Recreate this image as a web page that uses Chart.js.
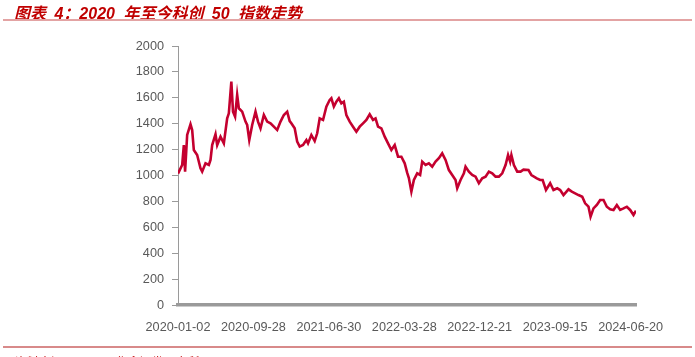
<!DOCTYPE html>
<html>
<head>
<meta charset="utf-8">
<script src="https://cdn.jsdelivr.net/npm/chart.js@4/dist/chart.umd.min.js"></script>
<style>
  html, body { margin: 0; padding: 0; background: #fff; }
  #wrap { position: relative; width: 695px; height: 357px; overflow: hidden; }
  #c { position: absolute; left: 0; top: 0; }
  #title { position: absolute; left: 14px; top: 0px; font: italic bold 16px "Liberation Sans", "Noto Sans CJK SC", sans-serif; color: #C00000; white-space: nowrap; word-spacing: 4px; }
  #tline { position: absolute; left: 3px; width: 689px; top: 19px; height: 1.5px; background: #E3A3A3; }
  #bline { position: absolute; left: 3px; width: 689px; top: 346px; height: 1.5px; background: #D88A8A; }
  #src { position: absolute; left: 15px; top: 353px; font: 12px "Noto Sans CJK SC", sans-serif; color: #C00000; white-space: nowrap; }
</style>
</head>
<body>
<div id="wrap">
  <canvas id="c" width="695" height="357"></canvas>
  <div id="title">图表 4：2020 年至今科创 50 指数走势</div>
  <div id="tline"></div>
  <div id="bline"></div>
  <div id="src">资料来源：Wind，华鑫证券研究所</div>
</div>
<script>
// Trading-day index of each reading (0 = 2020-01-02)
const dayIndex = [
  0, 10, 14, 17, 22, 30, 34, 38, 46, 54, 58, 66, 74, 78, 82, 90, 94, 102, 110, 118,
  122, 128, 132, 137, 142, 146, 154, 162, 166, 171, 178, 186, 192, 198, 206, 214, 222, 230, 238, 246,
  254, 262, 268, 272, 280, 286, 292, 300, 308, 312, 320, 328, 334, 340, 348, 356, 364, 368, 374, 380,
  386, 392, 398, 404, 412, 420, 428, 436, 444, 452, 460, 468, 474, 480, 488, 496, 504, 512, 520, 528,
  536, 544, 550, 554, 560, 566, 574, 581, 586, 594, 602, 610, 618, 626, 634, 642, 650, 658, 666, 670,
  678, 686, 690, 698, 706, 714, 722, 730, 738, 746, 754, 762, 770, 778, 786, 792, 797, 800, 806, 814,
  822, 829, 841, 848, 861, 869, 875, 883, 893, 901, 910, 917, 925, 937, 945, 953, 961, 970, 977, 985,
  990, 997, 1005, 1013, 1021, 1029, 1037, 1045, 1053, 1061, 1069, 1077, 1085, 1093, 1099
];
// Index level (科创50)
const indexValues = [
  1015, 1081, 1235, 1030, 1313, 1395, 1351, 1197, 1158, 1055, 1030, 1094, 1081, 1120, 1235, 1318, 1235, 1300, 1248, 1441,
  1480, 1725, 1493, 1454, 1622, 1519, 1493, 1416, 1390, 1274, 1390, 1493, 1416, 1364, 1467, 1416, 1403, 1377, 1351, 1416,
  1467, 1493, 1420, 1403, 1364, 1261, 1223, 1236, 1274, 1248, 1313, 1266, 1326, 1441, 1429, 1532, 1583, 1596, 1532, 1570,
  1596, 1557, 1570, 1467, 1416, 1377, 1338, 1377, 1403, 1429, 1473, 1429, 1441, 1377, 1364, 1300, 1248, 1197, 1235, 1145,
  1145, 1094, 1020, 980, 875, 965, 1017, 1004, 1107, 1081, 1094, 1068, 1107, 1133, 1171, 1120, 1042, 1004, 965, 901,
  965, 1017, 1068, 1030, 1004, 991, 940, 978, 991, 1030, 1017, 991, 991, 1017, 1081, 1158, 1107, 1158, 1081, 1030,
  1030, 1045, 1042, 1004, 978, 965, 965, 888, 940, 888, 901, 888, 849, 893, 875, 862, 849, 836, 785, 759,
  682, 746, 772, 811, 811, 759, 739, 734, 772, 734, 746, 759, 734, 695, 728
];
// X-axis tick labels and their trading-day positions
const tickLabels = ['2020-01-02', '2020-09-28', '2021-06-30', '2022-03-28', '2022-12-21', '2023-09-15', '2024-06-20'];
const tickDays = [0, 181, 362, 543, 724, 905, 1086];

const points = dayIndex.map((d, i) => ({ x: d, y: indexValues[i] }));

new Chart(document.getElementById('c'), {
  type: 'line',
  data: {
    datasets: [{
      data: points,
      borderColor: '#C4002F',
      borderWidth: 2.6,
      pointRadius: 0,
      tension: 0,
      fill: false
    }]
  },
  options: {
    responsive: false,
    animation: false,
    layout: { padding: { top: 46, right: 59, bottom: 0, left: 0 } },
    plugins: { legend: { display: false }, tooltip: { enabled: false } },
    scales: {
      x: {
        type: 'linear',
        min: 0,
        max: 1099,
        afterBuildTicks: s => { s.ticks = tickDays.map(v => ({ value: v })); },
        afterFit: s => { s.height = 52; },
        grid: { display: false },
        border: { display: true, color: '#9A9A9A', width: 3.5 },
        ticks: {
          autoSkip: false, maxRotation: 0, padding: 7,
          color: '#595959',
          font: { family: 'Liberation Sans', size: 12.7 },
          callback: (v, i) => tickLabels[i]
        }
      },
      y: {
        min: 0,
        max: 2000,
        afterFit: s => { s.width = 178; },
        grid: { display: true, drawOnChartArea: false, drawTicks: true, tickLength: 6, color: '#9A9A9A' },
        border: { display: true, color: '#9A9A9A', width: 1 },
        ticks: {
          stepSize: 200, padding: 8,
          color: '#595959',
          font: { family: 'Liberation Sans', size: 12.7 },
          callback: v => String(v)
        }
      }
    }
  }
});
</script>
</body>
</html>
